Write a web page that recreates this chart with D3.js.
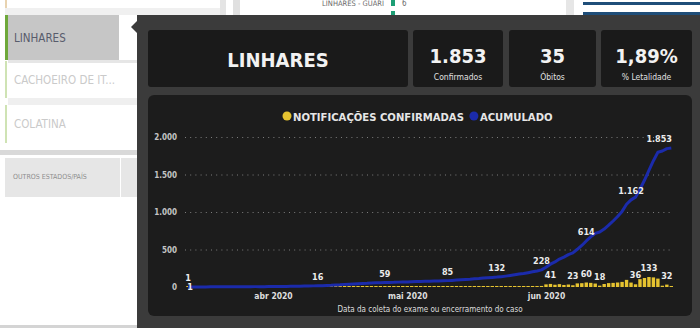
<!DOCTYPE html>
<html>
<head>
<meta charset="utf-8">
<script src="https://cdn.jsdelivr.net/npm/d3@7"></script>
<style>
  body { margin: 0; background: #fff; }
  svg { display: block; }
  text { font-family: 'DejaVu Sans Condensed', 'Liberation Sans Narrow', Roboto, sans-serif; }
</style>
</head>
<body>
<svg id="chart" width="700" height="328"></svg>
<script>
// ---- data ----
const startDate = "2020-03-13";
// daily confirmed notifications, Mar 13 -> Jun 29
const dailyConfirmed = [
  1,0,0,0,0,1,0,0,1,0,0,0,1,0,0,1,0,0,1,          // mar 13-31
  0,1,1,0,1,2,0,1,1,2,1,                          // apr 1-11
  2,3,2,4,3,5,2,3,4,3,2,4,3,2,1,                  // apr 12-26
  2,1,3,2,                                        // apr 27-30
  1,2,3,1,2,2,1,2,2,2,                            // may 1-10
  3,4,5,4,3,5,4,6,4,5,4,                          // may 11-21
  6,7,8,9,10,8,11,12,11,14,                       // may 22-31
  35,41,30,38,27,33,23,48,51,60,                  // jun 1-10
  55,46,18,40,52,55,60,68,95,59,                  // jun 11-20
  36,105,120,133,128,112,17,32,8                  // jun 21-29
];
const lineLabelDates = ["2020-03-13","2020-04-11","2020-04-26","2020-05-10","2020-05-21",
                        "2020-05-31","2020-06-10","2020-06-20","2020-06-29"];
const barLabelDates = ["2020-03-13","2020-06-02","2020-06-07","2020-06-10","2020-06-13",
                       "2020-06-21","2020-06-24","2020-06-28"];
const monthTicks = ["2020-04-01","2020-05-01","2020-06-01"];
const monthLabels = ["abr 2020","mai 2020","jun 2020"];
const yTicks = [0, 500, 1000, 1500, 2000];
const legendNames = ["NOTIFICAÇÕES CONFIRMADAS", "ACUMULADO"];
const cityName = "LINHARES";
const kpiValues = ["1.853", "35", "1,89%"];
const kpiNames = ["Confirmados", "Óbitos", "% Letalidade"];
const sideItems = ["LINHARES", "CACHOEIRO DE IT...", "COLATINA"];
const axisTitle = "Data da coleta do exame ou encerramento do caso";

const YELLOW = "#e6c330", BLUE = "#1b2bab";
const parse = d3.timeParse("%Y-%m-%d");
const t0 = parse(startDate);
const series = dailyConfirmed.map((v, i) => ({ date: d3.timeDay.offset(t0, i), value: v }));
const cum = d3.cumsum(dailyConfirmed);
series.forEach((d, i) => d.total = cum[i]);
const key = d3.timeFormat("%Y-%m-%d");
const byKey = new Map(series.map(d => [key(d.date), d]));

const ptBR = d3.formatLocale({ decimal: ",", thousands: ".", grouping: [3], currency: ["R$", ""] });
const fmt = ptBR.format(",d");

const svg = d3.select("#chart");

// ---- background page (left list + top strip) ----
const page = svg.append("g");
page.append("rect").attr("x", 0).attr("y", 0).attr("width", 700).attr("height", 328).attr("fill", "#fff");
page.append("rect").attr("x", 5).attr("y", 8).attr("width", 215).attr("height", 7).attr("fill", "#f0f0f0");
page.append("rect").attr("x", 5).attr("y", 0).attr("width", 2).attr("height", 8).attr("fill", "#e8d3b0");
page.append("rect").attr("x", 220).attr("y", 0).attr("width", 6).attr("height", 15).attr("fill", "#e4e4e4");
page.append("rect").attr("x", 233).attr("y", 0).attr("width", 7).attr("height", 15).attr("fill", "#e0e0e0");
page.append("text").attr("x", 384).attr("y", 6).attr("text-anchor", "end")
  .attr("font-size", 7.5).attr("fill", "#6a6a6a").text("LINHARES - GUARI");
page.append("rect").attr("x", 391).attr("y", 0).attr("width", 4).attr("height", 6).attr("fill", "#1d9e75");
page.append("rect").attr("x", 391).attr("y", 11).attr("width", 4).attr("height", 4).attr("fill", "#1d9e75");
page.append("text").attr("x", 402).attr("y", 6).attr("font-size", 8).attr("fill", "#6a6a6a").text("6");
page.append("rect").attr("x", 566).attr("y", 0).attr("width", 8).attr("height", 15).attr("fill", "#e6e6e6");
page.append("rect").attr("x", 583).attr("y", 2).attr("width", 117).attr("height", 3).attr("fill", "#1f4e79");
page.append("rect").attr("x", 583).attr("y", 12).attr("width", 117).attr("height", 3).attr("fill", "#1f4e79");

const rows = [{ y: 15, h: 45 }, { y: 61, h: 37 }, { y: 105, h: 38 }];
page.append("rect").attr("x", 8).attr("y", 60).attr("width", 129).attr("height", 3).attr("fill", "#e6e6e6");
page.append("rect").attr("x", 8).attr("y", 98).attr("width", 129).attr("height", 7).attr("fill", "#efefef");
sideItems.forEach((name, i) => {
  const r = rows[i];
  if (i === 0) page.append("rect").attr("x", 8).attr("y", r.y).attr("width", 111).attr("height", r.h).attr("fill", "#c6c6c6");
  page.append("rect").attr("x", 5).attr("y", r.y).attr("width", i === 0 ? 3 : 2).attr("height", r.h)
    .attr("fill", i === 0 ? "#6ea83a" : "#cfe3b4");
  page.append("text").attr("x", 14).attr("y", r.y + r.h / 2 + 4).attr("font-size", 11.5)
    .attr("fill", i === 0 ? "#585c6c" : "#cacaca").text(name);
});
page.append("rect").attr("x", 0).attr("y", 150).attr("width", 137).attr("height", 5).attr("fill", "#d9d9d9");
page.append("rect").attr("x", 5).attr("y", 158).attr("width", 115).attr("height", 39).attr("fill", "#e6e6e6");
page.append("rect").attr("x", 121).attr("y", 158).attr("width", 16).attr("height", 39).attr("fill", "#e6e6e6");
page.append("text").attr("x", 13).attr("y", 179).attr("font-size", 7).attr("fill", "#8e8e8e").text("OUTROS ESTADOS/PAÍS");
page.append("rect").attr("x", 0).attr("y", 325).attr("width", 137).attr("height", 3).attr("fill", "#d4d4d4");

// ---- tooltip overlay ----
const tip = svg.append("g");
tip.append("rect").attr("x", 137).attr("y", 15).attr("width", 563).attr("height", 313).attr("fill", "#3b3b3b");
tip.append("path").attr("d", "M137,21 L131,27 L137,33 Z").attr("fill", "#3b3b3b");

const cards = [{ x: 148, w: 260 }, { x: 413, w: 90 }, { x: 509, w: 87 }, { x: 601, w: 91 }];
cards.forEach((c, i) => {
  tip.append("rect").attr("x", c.x).attr("y", 30).attr("width", c.w).attr("height", 57)
    .attr("rx", 3).attr("fill", "#1a1a1a");
  if (i === 0) {
    tip.append("text").attr("x", c.x + c.w / 2).attr("y", 67).attr("text-anchor", "middle")
      .attr("font-size", 20).attr("font-weight", "bold").attr("fill", "#f2f2f2").text(cityName);
  } else {
    tip.append("text").attr("x", c.x + c.w / 2).attr("y", 63).attr("text-anchor", "middle")
      .attr("font-size", 20).attr("font-weight", "bold").attr("fill", "#f2f2f2").text(kpiValues[i - 1]);
    tip.append("text").attr("x", c.x + c.w / 2).attr("y", 80).attr("text-anchor", "middle")
      .attr("font-size", 8.5).attr("fill", "#e0e0e0").text(kpiNames[i - 1]);
  }
});

tip.append("rect").attr("x", 148).attr("y", 95).attr("width", 544).attr("height", 221)
  .attr("rx", 6).attr("fill", "#1c1c1c");

// ---- legend ----
const leg = tip.append("g");
let lx = 287;
legendNames.forEach((name, i) => {
  leg.append("circle").attr("cx", lx).attr("cy", 116).attr("r", 4.5).attr("fill", i === 0 ? YELLOW : BLUE);
  const t = leg.append("text").attr("x", lx + 6).attr("y", 120.5).attr("font-size", 11.2)
    .attr("font-weight", "bold").attr("fill", "#e6e6e6").text(name);
  lx += 6 + t.node().getComputedTextLength() + 10;
});

// ---- scales ----
const plotL = 185, plotR = 672;
const x = d3.scaleTime()
  .domain([parse("2020-04-01"), parse("2020-06-01")])
  .range([273, 546]);
const y = d3.scaleLinear().domain([0, 2000]).range([287, 137]);
const dayW = x(d3.timeDay.offset(parse("2020-04-01"), 1)) - x(parse("2020-04-01"));

const plot = tip.append("g");

// gridlines + y labels
const yAxis = plot.append("g").attr("transform", `translate(${plotL},0)`)
  .call(d3.axisLeft(y).tickValues(yTicks).tickFormat(fmt).tickSize(-(plotR - plotL)).tickPadding(8));
yAxis.select(".domain").remove();
yAxis.selectAll(".tick line").attr("stroke", "#7d7d7d").attr("stroke-dasharray", "1,4.2")
  .attr("opacity", d => d === 0 ? 0 : 1);
yAxis.selectAll(".tick text").attr("fill", "#c4c4c4").attr("font-size", 8).attr("font-weight", "bold")
  .attr("font-family", null);

// x labels
const xAxis = plot.append("g").attr("transform", "translate(0,289)")
  .call(d3.axisBottom(x).tickValues(monthTicks.map(parse)).tickFormat((d, i) => monthLabels[i]).tickSize(0).tickPadding(4));
xAxis.select(".domain").remove();
xAxis.selectAll(".tick text").attr("fill", "#dedede").attr("font-size", 8.5).attr("font-weight", "bold")
  .attr("font-family", null);

plot.append("text").attr("x", 430).attr("y", 312).attr("text-anchor", "middle")
  .attr("font-size", 8).attr("fill", "#dedede").text(axisTitle);

// bars
const bw = dayW * 0.76;
plot.append("g").selectAll("rect").data(series.filter(d => d.value > 0)).join("rect")
  .attr("x", d => x(d.date) - bw / 2)
  .attr("width", bw)
  .attr("y", d => Math.min(y(d.value), y(0) - 1))
  .attr("height", d => Math.max(y(0) - y(d.value), 1))
  .attr("fill", YELLOW);

// cumulative line
plot.append("path").datum(series)
  .attr("fill", "none").attr("stroke", BLUE).attr("stroke-width", 3).attr("stroke-linejoin", "round")
  .attr("d", d3.line().x(d => x(d.date)).y(d => y(d.total)));

// line labels
const lineLab = plot.append("g");
lineLabelDates.forEach(k => {
  const d = byKey.get(k);
  const t = lineLab.append("text").attr("y", y(d.total) - 6).attr("text-anchor", "middle")
    .attr("font-size", 9).attr("font-weight", "bold").attr("fill", "#ececec").text(fmt(d.total));
  const w = t.node().getComputedTextLength();
  t.attr("x", Math.min(x(d.date), plotR - w / 2));
});

// bar labels (pushed down onto the baseline when they would sit on a line label)
const barLab = plot.append("g");
barLabelDates.forEach(k => {
  const d = byKey.get(k);
  const clash = lineLabelDates.includes(k) && Math.abs(y(d.total) - y(d.value)) < 10;
  barLab.append("text").attr("x", x(d.date) + (clash ? 2 : 0))
    .attr("y", clash ? y(0) + 3 : y(d.value) - 6).attr("text-anchor", "middle")
    .attr("font-size", 9).attr("font-weight", "bold").attr("fill", "#ececec").text(fmt(d.value));
});
</script>
</body>
</html>
